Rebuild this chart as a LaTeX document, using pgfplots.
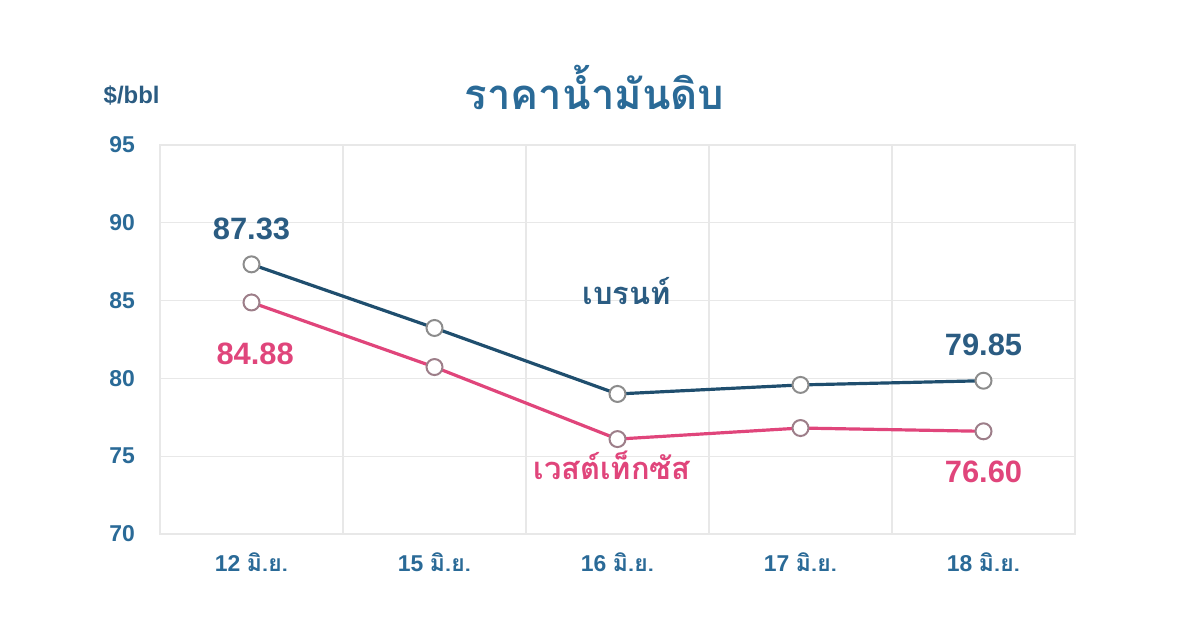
\documentclass[border=0pt]{standalone}
\usepackage{fontspec}
\setmainfont{Liberation Sans}
\newfontfamily\thaifont[Script=Thai]{Loma}
\usepackage{pgfplots}
\pgfplotsset{compat=1.18}
\definecolor{brent}{HTML}{1F4E6E}
\definecolor{brentlab}{HTML}{2B5C82}
\definecolor{wti}{HTML}{E0457B}
\definecolor{ticklab}{HTML}{2A6A97}
\definecolor{mk}{HTML}{8C8C8C}
\begin{document}
\begin{tikzpicture}
\useasboundingbox (-80bp,-42.5bp) rectangle (520bp,267bp);
\begin{axis}[
  scale only axis,
  width=457.5bp, height=194.5bp,
  xmin=-0.5, xmax=4.5, ymin=70, ymax=95,
  xtick={0,1,2,3,4},
  xticklabels={12 {\thaifont\bfseries มิ.ย.},15 {\thaifont\bfseries มิ.ย.},16 {\thaifont\bfseries มิ.ย.},17 {\thaifont\bfseries มิ.ย.},18 {\thaifont\bfseries มิ.ย.}},
  ytick={70,75,80,85,90,95},
  extra x ticks={-0.5,0.5,1.5,2.5,3.5,4.5},
  extra x tick labels={},
  extra x tick style={grid=major, major grid style={draw=gray!18, line width=0.6pt}},
  ymajorgrids,
  major grid style={draw=gray!18, line width=0.6pt},
  axis line style={draw=gray!18, line width=0.6pt},
  tick style={draw=none},
  yticklabel style={font=\bfseries\fontsize{11.5}{12}\selectfont, text=ticklab, xshift=-9bp},
  xticklabel style={font=\bfseries\fontsize{11.5}{12}\selectfont, text=ticklab, yshift=-6bp},
  /pgf/number format/assume math mode=true,
  clip=false,
]
\addplot[brent, line width=1.6pt, mark=*, mark size=4bp, mark options={fill=white, draw=mk, line width=1pt}]
  coordinates {(0,87.33) (1,83.24) (2,79.00) (3,79.58) (4,79.85)};
\addplot[wti, line width=1.6pt, mark=*, mark size=4bp, mark options={fill=white, draw=mk!80!wti, line width=1pt}]
  coordinates {(0,84.88) (1,80.73) (2,76.10) (3,76.81) (4,76.60)};
\node[font=\bfseries\fontsize{15.5}{17}\selectfont, text=brentlab] at (axis cs:0,89.6) {87.33};
\node[font=\bfseries\fontsize{15.5}{17}\selectfont, text=wti] at (axis cs:0.02,81.57) {84.88};
\node[font=\bfseries\fontsize{15.5}{17}\selectfont, text=brentlab] at (axis cs:4,82.15) {79.85};
\node[font=\bfseries\fontsize{15.5}{17}\selectfont, text=wti] at (axis cs:4,73.98) {76.60};
\node[font=\thaifont\bfseries\fontsize{15.5}{17}\selectfont, text=brentlab] at (axis cs:2.05,85.6) {เบรนท์};
\node[font=\thaifont\bfseries\fontsize{15.5}{17}\selectfont, text=wti] at (axis cs:1.97,74.4) {เวสต์เท็กซัส};
\node[font=\bfseries\fontsize{12}{13}\selectfont, text=brentlab] at (rel axis cs:-0.031,1.128) {\$/bbl};
\node[font=\thaifont\bfseries\fontsize{21}{24}\selectfont, text=ticklab] at (rel axis cs:0.475,1.149) {ราคาน้ำมันดิบ};
\end{axis}
\end{tikzpicture}
\end{document}
